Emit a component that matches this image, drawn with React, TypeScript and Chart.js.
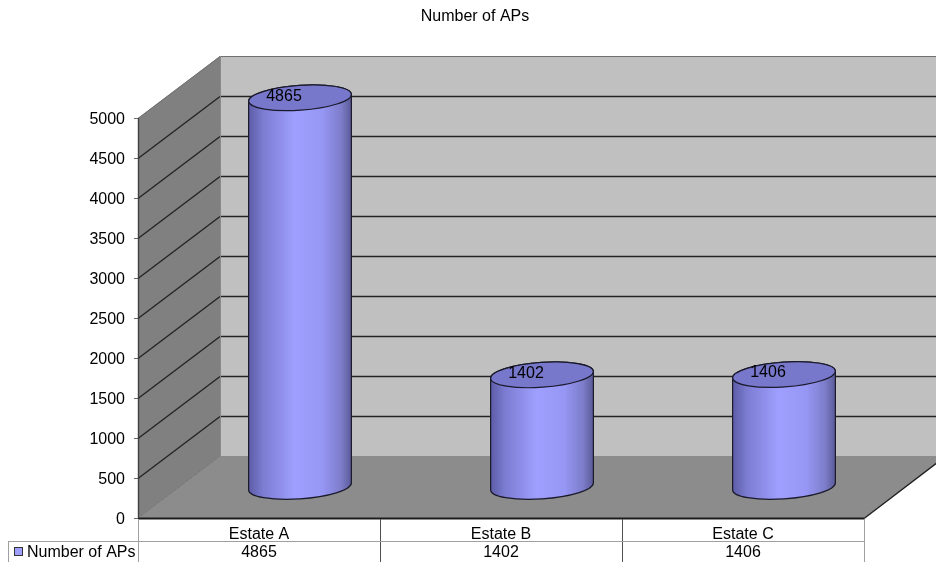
import { useEffect, useRef } from "react";
import { Chart, registerables } from "chart.js";

Chart.register(...registerables);

const categories = ["Estate A", "Estate B", "Estate C"];
const apCounts = [4865, 1402, 1406];
const seriesName = "Number of APs";
const axisMax = 5000;
const axisStep = 500;

const FONT = "'Liberation Sans', Arial, sans-serif";

// Projection of the box depth onto the screen.
const DEPTH_X = 82;
const DEPTH_Y = 62;

function polygon(ctx: CanvasRenderingContext2D, pts: number[][], fill: string) {
  ctx.beginPath();
  pts.forEach(([x, y], i) => (i ? ctx.lineTo(x, y) : ctx.moveTo(x, y)));
  ctx.closePath();
  ctx.fillStyle = fill;
  ctx.fill();
}

function line(ctx: CanvasRenderingContext2D, x1: number, y1: number, x2: number, y2: number, color: string, w = 1) {
  ctx.beginPath();
  ctx.moveTo(x1, y1);
  ctx.lineTo(x2, y2);
  ctx.strokeStyle = color;
  ctx.lineWidth = w;
  ctx.stroke();
}

// Back wall, side wall, floor and their gridlines.
const boxPlugin = {
  id: "box3d",
  beforeDatasetsDraw(chart: any) {
    const { ctx, chartArea: a, scales } = chart;
    const yS = scales.y;
    const top = a.top;
    const bottom = a.bottom;
    ctx.save();
    polygon(ctx, [[a.left + DEPTH_X, top - DEPTH_Y], [chart.width, top - DEPTH_Y], [chart.width, bottom - DEPTH_Y], [a.left + DEPTH_X, bottom - DEPTH_Y]], "#c0c0c0");
    polygon(ctx, [[a.left, top], [a.left + DEPTH_X, top - DEPTH_Y], [a.left + DEPTH_X, bottom - DEPTH_Y], [a.left, bottom]], "#808080");
    polygon(ctx, [[a.left, bottom], [a.right, bottom], [a.right + DEPTH_X, bottom - DEPTH_Y], [a.left + DEPTH_X, bottom - DEPTH_Y]], "#8c8c8c");

    yS.ticks.forEach((t: any) => {
      const y = Math.round(yS.getPixelForValue(t.value)) + 0.5;
      if (t.value === 0) return;
      const color = t.value === axisMax ? "#707070" : "#242424";
      const w = t.value === axisMax ? 1 : 1.4;
      line(ctx, a.left, y, a.left + DEPTH_X, y - DEPTH_Y, color, w);
      line(ctx, a.left + DEPTH_X, y - DEPTH_Y, chart.width, y - DEPTH_Y, color, w);
    });

    line(ctx, a.left + 0.5, top, a.left + 0.5, bottom, "#404040", 1.4);
    line(ctx, a.left, bottom, a.left + DEPTH_X, bottom - DEPTH_Y, "#747474");
    line(ctx, a.left + DEPTH_X + 0.5, top - DEPTH_Y, a.left + DEPTH_X + 0.5, bottom - DEPTH_Y, "#8a8a8a");
    line(ctx, a.left, bottom + 0.5, a.right, bottom + 0.5, "#1c1c1c", 1.8);
    line(ctx, a.right, bottom + 0.5, a.right + DEPTH_X, bottom - DEPTH_Y, "#1c1c1c", 1.4);
    ctx.restore();
  },
};

// Each bar element becomes a cylinder standing halfway into the box.
const cylinderPlugin = {
  id: "cylinders",
  beforeDatasetDraw(chart: any, args: any) {
    const { ctx } = chart;
    const meta = args.meta;
    const face = chart.data.datasets[args.index].backgroundColor;
    const theta = (-4 * Math.PI) / 180;
    meta.data.forEach((el: any, i: number) => {
      const cx = el.x + DEPTH_X / 2;
      const topY = el.y - DEPTH_Y / 2;
      const baseY = el.base - DEPTH_Y / 2;
      const rx = el.width / 2;
      const ry = 12.4;
      const t = Math.atan((-(ry / rx)) * Math.tan(theta));
      const dx = rx * Math.cos(t) * Math.cos(theta) - ry * Math.sin(t) * Math.sin(theta);

      const grad = ctx.createLinearGradient(cx - dx, 0, cx + dx, 0);
      grad.addColorStop(0, "#5c5ca6");
      grad.addColorStop(0.14, "#7c7cd2");
      grad.addColorStop(0.45, face);
      grad.addColorStop(0.72, "#9696f4");
      grad.addColorStop(0.9, "#7d7dca");
      grad.addColorStop(1, "#5a5a98");

      ctx.save();
      ctx.beginPath();
      ctx.ellipse(cx, baseY, rx, ry, theta, Math.PI + t, t, true);
      ctx.ellipse(cx, topY, rx, ry, theta, t, Math.PI + t, true);
      ctx.closePath();
      ctx.fillStyle = grad;
      ctx.fill();
      ctx.strokeStyle = "#1a1a2a";
      ctx.lineWidth = 1.2;
      ctx.stroke();

      ctx.beginPath();
      ctx.ellipse(cx, topY, rx, ry, theta, 0, Math.PI * 2);
      ctx.fillStyle = "#7777cc";
      ctx.fill();
      ctx.stroke();

      ctx.fillStyle = "#000";
      ctx.font = `16px ${FONT}`;
      ctx.textAlign = "center";
      ctx.textBaseline = "middle";
      ctx.fillText(String(chart.data.datasets[args.index].data[i]), cx - 16, topY - 1.5);
      ctx.restore();
    });
    return false;
  },
};

// Data table under the category axis.
const tablePlugin = {
  id: "dataTable",
  afterDraw(chart: any) {
    const { ctx, chartArea: a, scales } = chart;
    const xS = scales.x;
    const rule = "#a0a0a0";
    const rowY = a.bottom + 23;
    const end = chart.height;
    const step = (a.right - a.left) / categories.length;
    ctx.save();
    for (let i = 0; i <= categories.length; i++) {
      const x = Math.round(a.left + step * i) + 0.5;
      line(ctx, x, a.bottom + 1, x, end, i === 0 || i === categories.length ? rule : "#505050");
    }
    line(ctx, 8, rowY + 0.5, a.right, rowY + 0.5, rule);
    line(ctx, 8.5, rowY, 8.5, end, rule);

    ctx.fillStyle = chart.data.datasets[0].backgroundColor;
    ctx.fillRect(14.5, rowY + 6.5, 8, 8);
    ctx.strokeStyle = "#333";
    ctx.lineWidth = 1;
    ctx.strokeRect(14.5, rowY + 6.5, 8, 8);

    ctx.fillStyle = "#000";
    ctx.font = `16px ${FONT}`;
    ctx.textBaseline = "middle";
    ctx.textAlign = "left";
    ctx.fillText(seriesName, 27, rowY + 12);
    ctx.textAlign = "center";
    apCounts.forEach((v, i) => ctx.fillText(String(v), xS.getPixelForTick(i), rowY + 12));
    ctx.restore();
  },
};

export default function App() {
  const ref = useRef<HTMLCanvasElement>(null);
  useEffect(() => {
    const chart = new Chart(ref.current as HTMLCanvasElement, {
      type: "bar",
      data: {
        labels: categories,
        datasets: [
          {
            label: seriesName,
            data: apCounts,
            backgroundColor: "#9f9fff",
            barPercentage: 1,
            categoryPercentage: 103 / 242,
          },
        ],
      },
      plugins: [boxPlugin, cylinderPlugin, tablePlugin],
      options: {
        responsive: false,
        animation: false,
        layout: { padding: { left: 86, right: 72, top: 0, bottom: 0 } },
        plugins: {
          legend: { display: false },
          tooltip: { enabled: false },
          title: {
            display: true,
            text: seriesName,
            color: "#000",
            font: { family: FONT, size: 16, weight: "normal" },
            padding: { top: 7, bottom: 91.8 },
          },
        },
        scales: {
          x: {
            afterFit(scale: any) {
              scale.height = 44;
            },
            grid: { display: false },
            border: { display: false },
            ticks: {
              color: "#000",
              font: { family: FONT, size: 16 },
              padding: -1,
              maxRotation: 0,
              autoSkip: false,
            },
          },
          y: {
            min: 0,
            max: axisMax,
            afterFit(scale: any) {
              scale.width = 52;
            },
            grid: { drawOnChartArea: false, tickLength: 4, color: "#707070" },
            border: { display: false },
            ticks: {
              stepSize: axisStep,
              color: "#000",
              font: { family: FONT, size: 16 },
              padding: 9,
              labelOffset: 2,
              callback: (v: any) => String(v),
            },
          },
        },
      },
    } as any);
    return () => chart.destroy();
  }, []);

  return (
    <div style={{ position: "fixed", left: 0, top: 0, width: 936, height: 562, overflow: "hidden", background: "#fff" }}>
      <canvas ref={ref} width={936} height={562} style={{ display: "block" }} />
    </div>
  );
}
